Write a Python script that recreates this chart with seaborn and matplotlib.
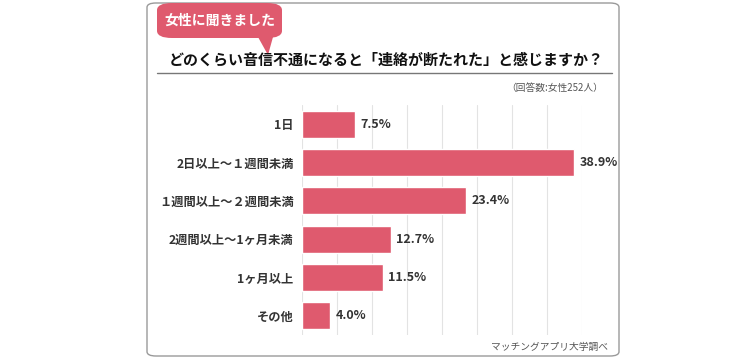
import matplotlib.pyplot as plt
import seaborn as sns
import pandas as pd
from matplotlib.patches import FancyBboxPatch, Polygon
from matplotlib.lines import Line2D

categories = ['1日', '2日以上～１週間未満', '１週間以上～２週間未満', '2週間以上～1ヶ月未満', '1ヶ月以上', 'その他']
values = [7.5, 38.9, 23.4, 12.7, 11.5, 4.0]
value_labels = ['7.5%', '38.9%', '23.4%', '12.7%', '11.5%', '4.0%']
grid_ticks = [0, 5, 10, 15, 20, 25, 30, 35, 40]

sns.set_theme(style='white')
plt.rcParams['font.family'] = ['Noto Sans CJK JP', 'DejaVu Sans']

bar_color = '#DF5A6E'
text_color = '#333333'

fig = plt.figure(figsize=(7.5, 3.59), dpi=100)
fig.patch.set_facecolor('white')

# card frame (behind the axes)
card = FancyBboxPatch((147 / 750, 3 / 359), 472 / 750, 353 / 359,
                      boxstyle='round,pad=0,rounding_size=0.012',
                      transform=fig.transFigure, facecolor='white',
                      edgecolor='#9a9a9a', linewidth=1.0, zorder=-5)
fig.patches.append(card)

# speech bubble
bubble = FancyBboxPatch((157 / 750, 321 / 359), 125 / 750, 35 / 359,
                        boxstyle='round,pad=0,rounding_size=0.02',
                        transform=fig.transFigure, facecolor=bar_color,
                        edgecolor='none', zorder=-4)
fig.patches.append(bubble)
tail = Polygon([(258 / 750, 322 / 359), (273 / 750, 322 / 359), (268 / 750, 304 / 359)],
               closed=True, transform=fig.transFigure, facecolor=bar_color,
               edgecolor='none', zorder=-4)
fig.patches.append(tail)
fig.text(220 / 750, 338 / 359, '女性に聞きました', color='white', fontsize=10,
         fontweight='bold', ha='center', va='center')

fig.text(386 / 750, 299 / 359, 'どのくらい音信不通になると「連絡が断たれた」と感じますか？',
         color='#111111', fontsize=10.8, fontweight='bold', ha='center', va='center')
fig.lines.append(Line2D([157 / 750, 612 / 750], [286 / 359, 286 / 359],
                        transform=fig.transFigure, color='#777777', linewidth=1.0))
fig.text(603 / 750, 271 / 359, '（回答数:女性252人）', color='#555555', fontsize=7,
         ha='right', va='center')
fig.text(608 / 750, 12 / 359, 'マッチングアプリ大学調べ', color='#555555', fontsize=7,
         ha='right', va='center')

ax = fig.add_axes([302 / 750, 24 / 359, 280 / 750, 230 / 359])
df = pd.DataFrame({'category': categories, 'value': values})
sns.barplot(data=df, x='value', y='category', orient='h', color=bar_color,
            width=0.7, saturation=1, ax=ax, zorder=3)

ax.set_xlim(0, 40)
ax.set_ylim(5.5, -0.5)
ax.set_xticks(grid_ticks)
ax.xaxis.grid(True, color='#e3e3e3', linewidth=0.8, zorder=0)
ax.set_axisbelow(True)
ax.set_xticklabels([])
ax.set_xlabel('')
ax.set_ylabel('')
ax.tick_params(axis='both', length=0)
ax.tick_params(axis='y', labelsize=8.8, labelcolor=text_color, pad=6)
for lbl in ax.get_yticklabels():
    lbl.set_fontweight('bold')
for s in ax.spines.values():
    s.set_visible(False)
ax.patch.set_alpha(0)

for i, (v, t) in enumerate(zip(values, value_labels)):
    ax.annotate(t, (v, i), xytext=(4, 0), textcoords='offset points',
                ha='left', va='center', fontsize=9, fontweight='bold',
                color=text_color, annotation_clip=False)

fig.savefig('out.png', dpi=100)
